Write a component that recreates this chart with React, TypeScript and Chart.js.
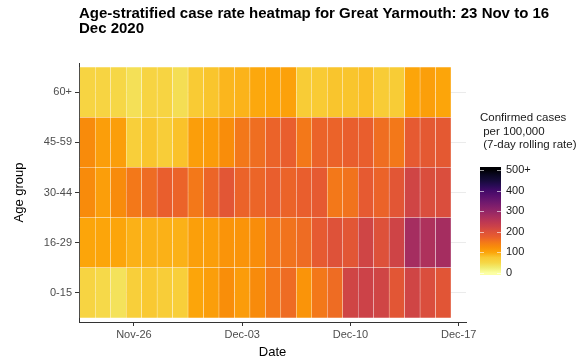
import React, { useEffect, useRef } from 'react';
import { Chart, registerables } from 'chart.js';

Chart.register(...registerables);

// ---- data ----
const dates = [
  '23 Nov', '24 Nov', '25 Nov', '26 Nov', '27 Nov', '28 Nov', '29 Nov', '30 Nov',
  '01 Dec', '02 Dec', '03 Dec', '04 Dec', '05 Dec', '06 Dec', '07 Dec', '08 Dec',
  '09 Dec', '10 Dec', '11 Dec', '12 Dec', '13 Dec', '14 Dec', '15 Dec', '16 Dec',
];
const ageGroups = ['0-15', '16-29', '30-44', '45-59', '60+'];

const rate0to15 = [55, 48, 38, 65, 75, 68, 65, 100, 108, 125, 110, 128, 150, 162, 118, 150, 162, 220, 225, 220, 190, 220, 205, 192];
const rate16to29 = [100, 100, 100, 92, 92, 92, 92, 106, 108, 118, 118, 126, 150, 155, 162, 182, 198, 190, 220, 200, 222, 278, 268, 278];
const rate30to44 = [128, 108, 128, 150, 162, 175, 170, 150, 168, 190, 170, 168, 175, 170, 175, 182, 150, 155, 182, 170, 190, 220, 205, 205];
const rate45to59 = [128, 108, 108, 65, 78, 68, 80, 108, 110, 126, 150, 160, 170, 175, 150, 170, 170, 175, 175, 160, 150, 182, 185, 185];
const rate60plus = [55, 55, 50, 40, 55, 55, 42, 72, 78, 88, 90, 98, 100, 104, 70, 72, 78, 78, 82, 70, 70, 100, 106, 100];

const xTickDays = [3, 10, 17, 24];
const xTickLabels = ['Nov-26', 'Dec-03', 'Dec-10', 'Dec-17'];
const legendTicks = [0, 100, 200, 300, 400, 500];
const legendTickLabels = ['0', '100', '200', '300', '400', '500+'];

const titleLines = ['Age-stratified case rate heatmap for Great Yarmouth: 23 Nov to 16', 'Dec 2020'];
const legendTitleLines = ['Confirmed cases', ' per 100,000', ' (7-day rolling rate)'];

const rows = [rate0to15, rate16to29, rate30to44, rate45to59, rate60plus];

// ---- colour scale (reversed inferno, 0 -> 500) ----
const inferno: [number, string][] = [
  [0.0, '#000004'], [0.05, '#0a0722'], [0.1, '#160b39'], [0.15, '#280b54'], [0.2, '#420a68'],
  [0.25, '#570f6d'], [0.3, '#6a176e'], [0.35, '#7f1e6c'], [0.4, '#932667'], [0.45, '#a82e5f'],
  [0.5, '#bc3754'], [0.55, '#cc4248'], [0.6, '#dd513a'], [0.65, '#e95e2d'], [0.7, '#f37819'],
  [0.75, '#f98e09'], [0.8, '#fca50a'], [0.85, '#f9c932'], [0.9, '#f6d746'], [0.95, '#f1ed71'],
  [1.0, '#fcffa4'],
];
const hex = (h: string) => [1, 3, 5].map((i) => parseInt(h.slice(i, i + 2), 16));
function colorFor(v: number): string {
  const t = 1 - Math.max(0, Math.min(500, v)) / 500;
  for (let i = 1; i < inferno.length; i++) {
    if (t <= inferno[i][0]) {
      const [t0, c0] = inferno[i - 1];
      const [t1, c1] = inferno[i];
      const f = (t - t0) / (t1 - t0);
      const a = hex(c0), b = hex(c1);
      const c = a.map((x, k) => Math.round(x + (b[k] - x) * f));
      return `rgb(${c[0]},${c[1]},${c[2]})`;
    }
  }
  return inferno[inferno.length - 1][1];
}

const FONT = '"Liberation Sans", Arial, sans-serif';

const overlayPlugin = {
  id: 'overlay',
  afterDraw(chart: any) {
    const ctx = chart.ctx as CanvasRenderingContext2D;
    ctx.save();
    ctx.textBaseline = 'middle';
    ctx.textAlign = 'left';
    ctx.fillStyle = '#000';
    ctx.font = `bold 15px ${FONT}`;
    ctx.fillText(titleLines[0], 79, 14);
    ctx.fillText(titleLines[1], 79, 28.5);

    ctx.font = `11.5px ${FONT}`;
    ctx.fillStyle = '#1a1a1a';
    legendTitleLines.forEach((l, i) => ctx.fillText(l, 480, 118 + i * 13.5));

    const x0 = 480, w = 21, yTop = 167, yBot = 275;
    const yOf = (v: number) => 273 - (v / 500) * 103;
    const grad = ctx.createLinearGradient(0, yOf(0), 0, yOf(500));
    for (let v = 0; v <= 500; v += 25) grad.addColorStop(v / 500, colorFor(v));
    ctx.fillStyle = grad;
    ctx.fillRect(x0, yTop, w, yBot - yTop);

    ctx.strokeStyle = 'rgba(255,255,255,0.6)';
    ctx.lineWidth = 1;
    ctx.fillStyle = '#1a1a1a';
    ctx.font = `11px ${FONT}`;
    legendTicks.forEach((v, i) => {
      const y = Math.round(yOf(v)) + 0.5;
      ctx.beginPath();
      ctx.moveTo(x0, y); ctx.lineTo(x0 + 4, y);
      ctx.moveTo(x0 + w - 4, y); ctx.lineTo(x0 + w, y);
      ctx.stroke();
      ctx.fillText(legendTickLabels[i], x0 + w + 5, yOf(v));
    });
    ctx.restore();
  },
};

export default function App() {
  const ref = useRef<HTMLCanvasElement | null>(null);
  useEffect(() => {
    if (!ref.current) return;
    const datasets = rows.map((vals, r) => ({
      label: ageGroups[r],
      data: vals.map((v, i) => ({ x: i, y: [r, r + 1] })),
      backgroundColor: vals.map((v) => colorFor(v)),
      borderColor: 'rgba(255,255,255,0.4)',
      borderWidth: 0.5,
      borderSkipped: false,
      grouped: false,
      barPercentage: 1,
      categoryPercentage: 1,
    }));
    const chart = new Chart(ref.current, {
      type: 'bar',
      data: { labels: dates, datasets: datasets as any },
      options: {
        animation: false,
        responsive: false,
        maintainAspectRatio: false,
        layout: { padding: { top: 63, right: 119, left: 0, bottom: 0 } },
        plugins: { legend: { display: false }, tooltip: { enabled: false }, title: { display: false } },
        scales: {
          x: {
            type: 'linear',
            min: -0.55,
            max: 24.47,
            offset: false,
            afterBuildTicks: (s: any) => { s.ticks = xTickDays.map((v) => ({ value: v })); },
            afterFit: (s: any) => { s.height = 40; },
            ticks: {
              autoSkip: false,
              maxRotation: 0,
              padding: 2,
              color: '#4d4d4d',
              font: { family: FONT, size: 11 },
              callback: (v: any) => xTickLabels[xTickDays.indexOf(Number(v))] ?? '',
            },
            grid: { offset: false, drawOnChartArea: false, drawTicks: true, tickLength: 4, tickColor: '#333' },
            border: { display: true, color: '#333', width: 1 },
            title: { display: true, text: 'Date', color: '#000', font: { family: FONT, size: 13 }, padding: { top: 0, bottom: 2 } },
          },
          y: {
            type: 'linear',
            min: -0.08,
            max: 5.08,
            afterBuildTicks: (s: any) => { s.ticks = ageGroups.map((_, i) => ({ value: i + 0.5 })); },
            afterFit: (s: any) => { s.width = 79; },
            ticks: {
              padding: 3,
              color: '#4d4d4d',
              font: { family: FONT, size: 11 },
              callback: (v: any) => ageGroups[Math.floor(Number(v))] ?? '',
            },
            grid: { color: '#ebebeb', lineWidth: 1, drawTicks: true, tickLength: 4, tickColor: '#333' },
            border: { display: true, color: '#333', width: 1 },
            title: { display: true, text: 'Age group', color: '#000', font: { family: FONT, size: 13 }, padding: { top: 12, bottom: 0 } },
          },
        },
      },
      plugins: [overlayPlugin],
    });
    return () => chart.destroy();
  }, []);
  return (
    <div style={{ position: 'absolute', left: 0, top: 0, width: 585, height: 362, background: '#fff' }}>
      <canvas ref={ref} width={585} height={362} />
    </div>
  );
}
